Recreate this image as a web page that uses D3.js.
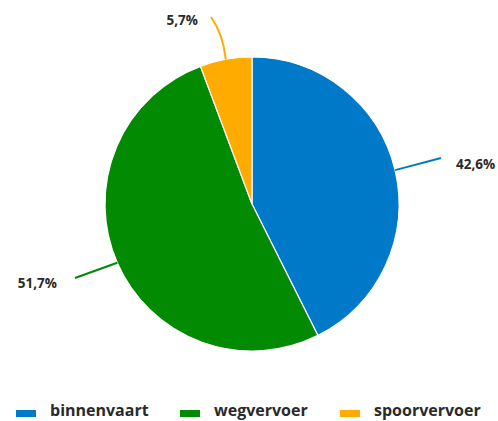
<!DOCTYPE html>
<html>
<head>
<meta charset="utf-8">
<script src="https://cdn.jsdelivr.net/npm/d3@7"></script>
<style>
  body { margin: 0; background: #fff; }
  text { font-family: "Open Sans", sans-serif; font-weight: bold; fill: #2a2a2a; }
</style>
</head>
<body>
<svg></svg>
<script>
// data
const categories = ["binnenvaart", "wegvervoer", "spoorvervoer"];
const shares = [42.6, 51.7, 5.7];
const shareLabels = ["42,6%", "51,7%", "5,7%"];
const colors = ["#0079c9", "#028a02", "#ffab00"];

const W = 498, H = 421;
let svg = d3.select("svg").attr("width", W).attr("height", H);

const cx = 252, cy = 204, r = 147;

let pie = d3.pie().sort(null).value(d => d)(shares);
let arc = d3.arc().innerRadius(0).outerRadius(r);

let g = svg.append("g").attr("transform", `translate(${cx},${cy})`);

g.selectAll("path.slice")
    .data(pie)
    .enter().append("path")
    .attr("class", "slice")
    .attr("d", arc)
    .style("fill", (d, i) => colors[i])
    .style("stroke", "#fff")
    .style("stroke-width", 1.2);

// label placement (end of leader line, label anchor) relative to centre
const labelLayout = [
    { end: [189, -46], ctrl: null, tx: 204, ty: -35, anchor: "start" },
    { end: [-177, 74], ctrl: null, tx: -195, ty: 84, anchor: "end" },
    { end: [-41, -187], ctrl: [-29, -170], tx: -54, ty: -179, anchor: "end" }
];

pie.forEach((d, i) => {
    let a = (d.startAngle + d.endAngle) / 2;
    let sx = Math.sin(a) * r, sy = -Math.cos(a) * r;
    let L = labelLayout[i];
    let p = d3.path();
    p.moveTo(sx, sy);
    if (L.ctrl) p.quadraticCurveTo(L.ctrl[0], L.ctrl[1], L.end[0], L.end[1]);
    else p.lineTo(L.end[0], L.end[1]);
    g.append("path")
        .attr("d", p.toString())
        .style("fill", "none")
        .style("stroke", colors[i])
        .style("stroke-width", 2);
    g.append("text")
        .attr("x", L.tx)
        .attr("y", L.ty)
        .attr("text-anchor", L.anchor)
        .style("font-size", "13.5px")
        .text(shareLabels[i]);
});

// legend
const legendX = [16, 180, 340];
let legend = svg.append("g");
categories.forEach((c, i) => {
    legend.append("rect")
        .attr("x", legendX[i])
        .attr("y", 410)
        .attr("width", 20)
        .attr("height", 7)
        .style("fill", colors[i]);
    legend.append("text")
        .attr("x", legendX[i] + 34)
        .attr("y", 416)
        .style("font-size", "16px")
        .text(c);
});
</script>
</body>
</html>
